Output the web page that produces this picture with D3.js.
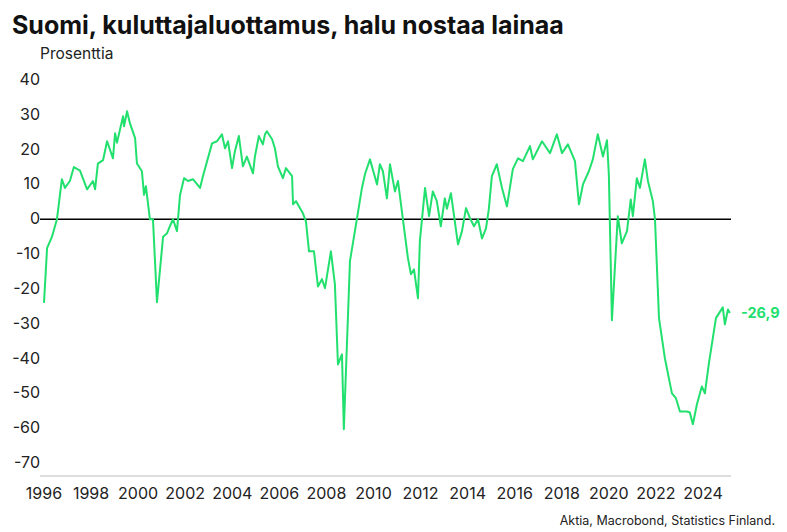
<!DOCTYPE html>
<html lang="fi">
<head>
<meta charset="UTF-8">
<script src="https://d3js.org/d3.v7.min.js"></script>
<title>Kuluttajaluottamus</title>
<style>
  body { margin: 0; background: #fff; font-family: Inter, "Noto Sans", sans-serif; }
  text { font-family: Inter, "Noto Sans", sans-serif; }
</style>
</head>
<body>
<svg id="chart" width="787" height="532"></svg>
<script>
// years as fractions, values in percent
years = [1996.0,1996.13,1996.34,1996.55,1996.76,1996.89,1997.10,1997.27,1997.53,1997.83,1998.08,1998.17,1998.29,1998.51,1998.68,
  1998.93,1999.02,1999.10,1999.36,1999.40,1999.53,1999.65,1999.87,1999.95,2000.16,2000.25,2000.33,2000.50,2000.63,2000.80,
  2001.06,2001.23,2001.35,2001.48,2001.65,2001.78,2001.95,2002.12,2002.33,2002.63,2002.75,2003.14,2003.35,2003.56,2003.69,
  2003.82,2003.99,2004.11,2004.28,2004.45,2004.62,2004.88,2004.96,2005.13,2005.30,2005.39,2005.47,2005.69,2005.81,2005.94,
  2006.15,2006.28,2006.54,2006.58,2006.71,2007.00,2007.13,2007.26,2007.47,2007.64,2007.81,2007.94,2008.19,2008.36,2008.49,
  2008.66,2008.74,2009.00,2009.21,2009.51,2009.64,2009.85,2010.15,2010.27,2010.40,2010.57,2010.70,2010.91,2011.04,2011.25,
  2011.46,2011.59,2011.72,2011.89,2011.97,2012.19,2012.36,2012.52,2012.69,2012.86,2013.03,2013.12,2013.29,2013.59,2013.76,
  2013.93,2014.10,2014.27,2014.44,2014.61,2014.78,2014.90,2015.03,2015.24,2015.46,2015.67,2015.92,2016.14,2016.35,2016.65,
  2016.77,2017.16,2017.50,2017.79,2018.01,2018.26,2018.56,2018.73,2018.90,2019.15,2019.32,2019.53,2019.75,2019.92,2020.00,
  2020.13,2020.38,2020.55,2020.77,2020.93,2021.02,2021.19,2021.32,2021.53,2021.66,2021.87,2021.96,2022.13,2022.38,2022.68,
  2022.85,2023.02,2023.31,2023.44,2023.57,2023.74,2023.95,2024.08,2024.25,2024.55,2024.84,2024.93,2025.06,2025.14];
values = [-24,-8.3,-5,0,11.5,9,11,15,14,8.6,11,8.6,16,17,22.4,
  17.5,24.7,22,29.6,26.7,31,27.6,23.3,16,13.8,7,9.5,0,0,-23.8,
  -5,-4,-2,0,-3.4,7,11.8,11,11.5,9,12.3,21.8,22.4,24.4,20.4,
  22.4,14.7,19.5,23.9,15.2,18,13.2,18,23.9,21.5,24.4,25.3,23,20.4,15.2,
  11.8,14.7,12.4,4.3,5.2,1.7,-0.6,-9.2,-9.2,-19.3,-17.2,-19.8,-9.2,-18.7,-41.7,
  -38.8,-60.3,-12,-3.4,9,13,17.2,10,15.8,13.8,6,15.8,8,11,0,
  -11,-15.8,-14.4,-22.7,-6.3,9,0.9,8,5.2,-2,6,3,7.5,-7.2,-3.4,
  3.2,0.3,-2,0,-5.5,-2.6,2.9,12.4,15.8,9,3.7,14.4,17.5,16.7,21,
  17.2,22.4,19,24.4,19,21.5,16.7,4.3,10,13.8,17.2,24.4,18,22.7,12.9,
  -29,0.9,-6.9,-3.4,5.7,0.9,11.8,9,17.2,11,5.2,0,-28.4,-39.9,-50,
  -51.4,-55.2,-55.2,-55.5,-58.9,-53.2,-48,-50,-41.4,-28.4,-25.3,-30.2,-25.9,-26.9];
yTicks = [40,30,20,10,0,-10,-20,-30,-40,-50,-60,-70];
xTicks = [1996,1998,2000,2002,2004,2006,2008,2010,2012,2014,2016,2018,2020,2022,2024];
lastLabel = "-26,9";

svg = d3.select("#chart");
green = "#22e06e";

x = d3.scaleLinear().domain([1996, 2024]).range([44, 703]);
y = d3.scaleLinear().domain([40, -70]).range([80, 463]);

svg.append("text").attr("x", 12).attr("y", 34).attr("font-size", 25).attr("font-weight", 700)
  .attr("fill", "#111").text("Suomi, kuluttajaluottamus, halu nostaa lainaa");
svg.append("text").attr("x", 40).attr("y", 59).attr("font-size", 15.5).attr("fill", "#222").text("Prosenttia");

svg.selectAll(".yt").data(yTicks).enter().append("text")
  .attr("x", 40).attr("y", function(d){ return y(d) + 5 })
  .attr("text-anchor", "end").attr("font-size", 16).attr("fill", "#222")
  .text(function(d){ return d });

svg.append("line").attr("x1", 40).attr("x2", 731).attr("y1", 476).attr("y2", 476)
  .attr("stroke", "#bbb").attr("stroke-width", 1);

svg.selectAll(".xt").data(xTicks).enter().append("text")
  .attr("x", function(d){ return x(d) }).attr("y", 499)
  .attr("text-anchor", "middle").attr("font-size", 16).attr("fill", "#222")
  .text(function(d){ return d });

svg.append("line").attr("x1", 40).attr("x2", 731).attr("y1", y(0)).attr("y2", y(0))
  .attr("stroke", "#000").attr("stroke-width", 1.6);

pts = years.map(function(d, i){ return [d, values[i]] });
line = d3.line().x(function(d){ return x(d[0]) }).y(function(d){ return y(d[1]) });
svg.append("path").datum(pts).attr("d", line).attr("fill", "none")
  .attr("stroke", green).attr("stroke-width", 2).attr("stroke-linejoin", "round");

svg.append("text").attr("x", 741).attr("y", y(-26.9) + 5).attr("font-size", 14.5).attr("font-weight", 700)
  .attr("fill", green).text(lastLabel);

svg.append("text").attr("x", 775).attr("y", 525).attr("text-anchor", "end").attr("font-size", 12.5)
  .attr("fill", "#222").text("Aktia, Macrobond, Statistics Finland.");
</script>
</body>
</html>
